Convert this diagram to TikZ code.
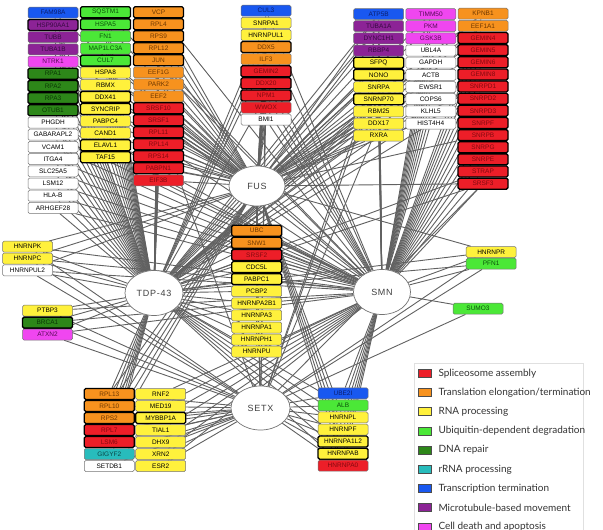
\documentclass[tikz,border=0pt]{standalone}
\usepackage{fontspec}
\setmainfont{Liberation Sans}
\newfontfamily\legfont{Lato}
\newfontfamily\hubfont[LetterSpace=8]{Liberation Sans}
\usetikzlibrary{shapes.geometric}
\pgfdeclarelayer{bg}
\pgfsetlayers{bg,main}
\definecolor{cR}{RGB}{237,30,40}
\definecolor{tR}{RGB}{130,10,15}
\definecolor{cO}{RGB}{247,146,30}
\definecolor{tO}{RGB}{110,55,0}
\definecolor{cY}{RGB}{255,241,60}
\definecolor{cG}{RGB}{75,232,55}
\definecolor{tG}{RGB}{10,80,10}
\definecolor{cD}{RGB}{45,135,25}
\definecolor{tD}{RGB}{10,55,5}
\definecolor{cT}{RGB}{40,188,188}
\definecolor{tT}{RGB}{10,70,70}
\definecolor{cB}{RGB}{25,88,240}
\definecolor{tB}{RGB}{10,30,110}
\definecolor{cP}{RGB}{140,35,150}
\definecolor{tP}{RGB}{55,10,65}
\definecolor{cM}{RGB}{240,70,240}
\definecolor{tM}{RGB}{85,10,85}
\tikzset{
  pb/.style={draw=black!55, line width=0.5pt, rounded corners=1.5pt,
    minimum width=50pt, minimum height=11pt, inner sep=0pt,
    font=\fontsize{6.5}{7}\selectfont},
  thk/.style={draw=black, line width=1.3pt},
  sR/.style={pb, fill=cR, text=tR}, sRk/.style={sR, thk},
  sO/.style={pb, fill=cO, text=tO}, sOk/.style={sO, thk},
  sY/.style={pb, fill=cY, text=black}, sYk/.style={sY, thk},
  sG/.style={pb, fill=cG, text=tG}, sGk/.style={sG, thk},
  sD/.style={pb, fill=cD, text=tD}, sDk/.style={sD, thk},
  sT/.style={pb, fill=cT, text=tT},
  sB/.style={pb, fill=cB, text=tB},
  sP/.style={pb, fill=cP, text=tP}, sPk/.style={sP, thk},
  sM/.style={pb, fill=cM, text=tM},
  sW/.style={pb, fill=white, text=black},
  hub/.style={ellipse, draw=black!55, line width=0.7pt, fill=white, inner sep=0pt,
    text=black!75, font=\hubfont\fontsize{9}{10}\selectfont},
  edge/.style={draw=black!62, line width=0.9pt},
  swatch/.style={draw=black!70, line width=0.6pt, minimum width=13pt, minimum height=8pt, inner sep=0pt},
  legtext/.style={anchor=west, inner sep=0pt, text=black!80, font=\legfont\fontsize{10}{12}\selectfont}
}
\newcommand\pcol[4]{\foreach \nm/\st [count=\i from 0] in {#4}{\node[s\st] (\nm) at (#1,{#2+\i*#3}) {\nm};}}
\begin{document}
\begin{tikzpicture}[x=1pt,y=-1pt]
\useasboundingbox (0,0) rectangle (603,530);
% hubs
\node[hub, minimum width=56pt, minimum height=40pt] (FUS) at (257,186) {FUS};
\node[hub, minimum width=58pt, minimum height=45pt] (TDP) at (154,293) {TDP-43};
\node[hub, minimum width=57pt, minimum height=45pt] (SMN) at (382,292) {SMN};
\node[hub, minimum width=59pt, minimum height=44pt] (SETX) at (260.5,408) {SETX};
% protein columns
\pcol{53}{12.7}{12.2}{FAM98A/B, HSP90AA1/Pk, TUBB/P, TUBA1B/P, NTRK1/M, RPA1/Dk, RPA2/Dk, RPA3/Dk, OTUB1/Dk, PHGDH/W, GABARAPL2/W, VCAM1/W, ITGA4/W, SLC25A5/W, LSM12/W, HLA-B/W, ARHGEF28/W}
\pcol{105.5}{12.3}{12.08}{SQSTM1/Gk, HSPA5/Gk, FN1/G, MAP1LC3A/G, CUL7/Gk, HSPA8/Y, RBMX/Y, DDX41/Yk, SYNCRIP/Yk, PABPC4/Y, CAND1/Y, ELAVL1/Yk, TAF15/Yk}
\pcol{158.5}{12.3}{12.0}{VCP/Ok, RPL4/Ok, RPS9/Ok, RPL12/Ok, JUN/Ok, EEF1G/O, PARK2/O, EEF2/O, SRSF10/Rk, SRSF1/Rk, RPL11/Rk, RPL14/Rk, RPS14/Rk, PABPN1/Rk, EIF3B/R}
\pcol{266}{10.7}{12.1}{CUL3/B, SNRPA1/Y, HNRNPUL1/Y, DDX5/Ok, ILF3/O, GEMIN2/Rk, DDX20/Rk, NPM1/Rk, WWOX/R, BMI1/W}
\pcol{378.7}{14}{12.17}{ATP5B/B, TUBA1A/P, DYNC1H1/P, RBBP4/P, SFPQ/Yk, NONO/Yk, SNRPA/Y, SNRNP70/Yk, RBM25/Y, DDX17/Y, RXRA/Y}
\pcol{430.8}{14}{12.17}{TIMM50/M, PKM/M, GSK3B/M, UBL4A/W, GAPDH/W, ACTB/W, EWSR1/W, COPS6/W, KLHL5/W, HIST4H4/W}
\pcol{483}{13.7}{12.14}{KPNB1/O, EEF1A1/O, GEMIN4/Rk, GEMIN5/Rk, GEMIN6/Rk, GEMIN8/Rk, SNRPD1/Rk, SNRPD2/Rk, SNRPD3/Rk, SNRPF/Rk, SNRPB/Rk, SNRPG/Rk, SNRPE/Rk, STRAP/Rk, SRSF3/Rk}
\pcol{256.7}{230.7}{12.1}{UBC/Ok, SNW1/Ok, SRSF2/Rk, CDC5L/Yk, PABPC1/Yk, PCBP2/Y, HNRNPA2B1/Y, HNRNPA3/Y, HNRNPA1/Y, HNRNPH1/Y, HNRNPU/Y}
\pcol{27.5}{246.7}{11.8}{HNRNPK/Y, HNRNPC/Y, HNRNPUL2/W}
\pcol{47.5}{310.7}{11.9}{PTBP3/Y, BRCA1/Dk, ATXN2/M}
\pcol{491.2}{252}{11.7}{HNRNPR/Y, PFN1/G}
\pcol{478}{308.7}{12}{SUMO3/G}
\pcol{109.3}{394}{12}{RPL13/Ok, RPL10/Ok, RPS2/Ok, RPL7/Rk, LSM6/Rk, GIGYF2/T, SETDB1/W}
\pcol{160.7}{394}{12}{RNF2/Y, MED19/Y, MYBBP1A/Yk, TIAL1/Y, DHX9/Y, XRN2/Y, ESR2/Y}
\pcol{343}{393.3}{12.07}{UBE2I/B, ALB/G, HNRNPL/Y, HNRNPF/Y, HNRNPA1L2/Yk, HNRNPAB/Yk, HNRNPA0/R}
% edges
\begin{pgfonlayer}{bg}
\foreach \n in {FAM98A, HSP90AA1, TUBB, TUBA1B, NTRK1, RPA1, RPA2, RPA3, OTUB1, PHGDH, GABARAPL2, VCAM1, ITGA4, SLC25A5, LSM12, HLA-B, ARHGEF28, SQSTM1, HSPA5, FN1, MAP1LC3A, CUL7, HSPA8, RBMX, DDX41, SYNCRIP, PABPC4, CAND1, ELAVL1, TAF15, VCP, RPL4, RPS9, RPL12, JUN, EEF1G, PARK2, EEF2, SRSF10, SRSF1, RPL11, RPL14, RPS14, PABPN1, EIF3B, DDX5, ILF3, SNRPA1, HNRNPUL1, NPM1, ATP5B, TUBA1A, DYNC1H1, RBBP4, SFPQ, NONO, SNRNP70, DDX17, RBM25, UBL4A, GAPDH, ACTB, EWSR1, COPS6, KLHL5, HIST4H4, KPNB1, EEF1A1, SRSF3, STRAP, UBC, SNW1, SRSF2, CDC5L, PABPC1, PCBP2, HNRNPA2B1, HNRNPA3, HNRNPA1, HNRNPH1, HNRNPU, HNRNPK, HNRNPC, HNRNPUL2, PTBP3, BRCA1, ATXN2, HNRNPR, PFN1, RPL13, RPL10, RPS2, RPL7, LSM6, GIGYF2, SETDB1, HNRNPL, HNRNPF, HNRNPA1L2, HNRNPAB, HNRNPA0, ALB}
  \draw[edge] (\n) -- (TDP);
\foreach \n in {HSPA5, HSPA8, RBMX, DDX41, SYNCRIP, PABPC4, CAND1, ELAVL1, TAF15, VCP, RPL4, RPS9, RPL12, JUN, EEF1G, PARK2, EEF2, SRSF10, SRSF1, RPL11, RPL14, RPS14, PABPN1, EIF3B, CUL3, SNRPA1, HNRNPUL1, DDX5, ILF3, GEMIN2, DDX20, NPM1, WWOX, BMI1, ATP5B, TUBA1A, SFPQ, NONO, SNRPA, SNRNP70, RBM25, DDX17, RXRA, TIMM50, PKM, GAPDH, EWSR1, KPNB1, EEF1A1, GEMIN4, GEMIN5, SNRPD1, SNRPD2, SNRPB, SRSF3, UBC, SNW1, SRSF2, CDC5L, PABPC1, PCBP2, HNRNPA2B1, HNRNPA3, HNRNPA1, HNRNPH1, HNRNPU, HNRNPK, HNRNPC, HNRNPUL2, HNRNPR, RPL13, RPL10, RPS2, RPL7, LSM6, HNRNPL, HNRNPF, HNRNPA1L2, HNRNPAB, HNRNPA0, FAM98A, TUBB, TUBA1B, NTRK1}
  \draw[edge] (\n) -- (FUS);
\foreach \n in {PHGDH, GABARAPL2, VCAM1, ITGA4, SLC25A5, LSM12, HLA-B, ARHGEF28, RPA1, OTUB1, SQSTM1, CUL7, VCP, JUN, EEF2, SRSF1, EIF3B, GEMIN2, DDX20, NPM1, WWOX, BMI1, CUL3, HNRNPUL1, ATP5B, TUBA1A, DYNC1H1, RBBP4, SFPQ, NONO, SNRPA, SNRNP70, RBM25, DDX17, RXRA, TIMM50, PKM, GSK3B, UBL4A, GAPDH, ACTB, EWSR1, COPS6, KLHL5, HIST4H4, KPNB1, EEF1A1, GEMIN4, GEMIN5, GEMIN6, GEMIN8, SNRPD1, SNRPD2, SNRPD3, SNRPF, SNRPB, SNRPG, SNRPE, STRAP, SRSF3, UBC, SNW1, SRSF2, CDC5L, PABPC1, HNRNPU, HNRNPR, PFN1, SUMO3, RNF2, MED19, MYBBP1A, TIAL1, DHX9, XRN2, ESR2, UBE2I, ALB, HNRNPL, HNRNPF, HNRNPA1L2, HNRNPAB, HNRNPA0, HNRNPK, HNRNPC, HNRNPUL2, PTBP3, BRCA1, ATXN2}
  \draw[edge] (\n) -- (SMN);
\foreach \n in {RPL13, RPL10, RPS2, RPL7, LSM6, GIGYF2, SETDB1, MYBBP1A, TIAL1, DHX9, XRN2, ESR2, UBE2I, ALB, HNRNPL, HNRNPF, HNRNPA1L2, HNRNPAB, HNRNPA0, SUMO3, UBC, SNW1, SRSF2, HNRNPK, HNRNPC, HNRNPUL2, PTBP3, BRCA1, ATXN2, HNRNPR, PFN1, SRSF1, SRSF3, DDX17, DDX5, NPM1, SFPQ, NONO}
  \draw[edge] (\n) -- (SETX);
\end{pgfonlayer}
% legend
\draw[draw=black!12, line width=0.8pt, fill=white] (414.3,363.3) rectangle (583.3,545);
\foreach \c/\t [count=\i from 0] in {cR/Spliceosome assembly, cO/{Translation elongation/termination}, cY/RNA processing, cG/Ubiquitin-dependent degradation, cD/DNA repair, cT/rRNA processing, cB/Transcription termination, cP/Microtubule-based movement, cM/Cell death and apoptosis}{
  \node[swatch, fill=\c] (sw\i) at (425,{373.3+\i*19.2}) {};
  \node[legtext] (lt\i) at (438.3,{373.3+\i*19.2}) {\t};
}
\end{tikzpicture}
\end{document}
